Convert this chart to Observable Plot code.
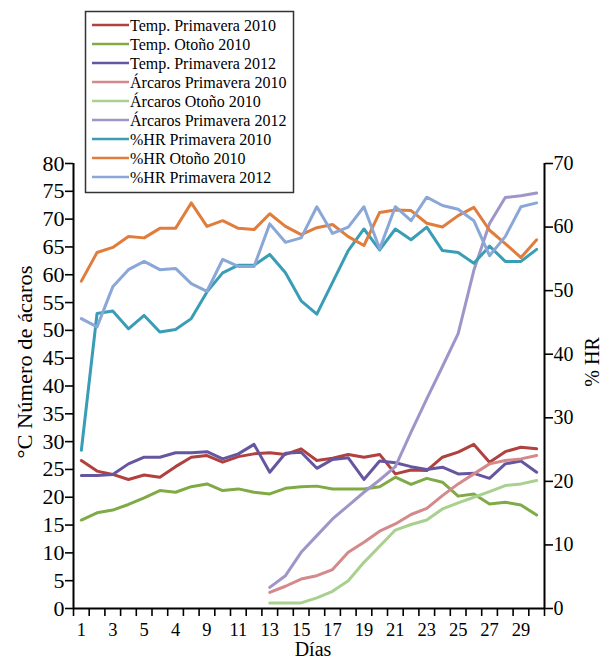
<!DOCTYPE html>
<html><head><meta charset="utf-8">
<script src="https://cdn.jsdelivr.net/npm/d3@7"></script>
<script src="https://cdn.jsdelivr.net/npm/@observablehq/plot@0.6"></script>
<style>body{margin:0;background:#fff}</style>
</head><body><div id="chart"></div>
<script>
// ---- data ----
const days = d3.range(1, 31);
const acaroDays = d3.range(13, 31);
const xLabelDays = [1,3,5,7,9,11,13,15,17,19,21,23,25,27,29];
const xTickLabels = ["1","3","5","4","9","11","13","15","17","19","21","23","25","27","29"];
const leftTicks = d3.range(0, 81, 5);
const rightTicks = d3.range(0, 71, 10);

const tempPrimavera2010 = [26.6,24.7,24.1,23.2,24.0,23.6,25.5,27.2,27.5,26.3,27.3,27.8,28.0,27.7,28.7,26.6,27.0,27.7,27.2,27.7,24.2,24.9,24.8,27.2,28.1,29.5,26.3,28.2,29.0,28.7];
const tempOtono2010 = [15.9,17.2,17.7,18.7,19.9,21.2,20.9,21.9,22.4,21.2,21.5,20.9,20.6,21.6,21.9,22.0,21.5,21.5,21.5,21.9,23.6,22.3,23.4,22.7,20.2,20.6,18.8,19.1,18.6,16.8];
const tempPrimavera2012 = [23.9,23.9,24.1,26.0,27.2,27.2,28.0,28.0,28.2,26.9,27.8,29.5,24.5,27.9,28.1,25.2,26.8,27.1,23.2,26.5,26.2,25.5,25.0,25.4,24.2,24.3,23.4,26.0,26.5,24.5];
const acarosPrimavera2010 = [2.9,4.0,5.3,5.9,7.0,10.1,11.9,13.9,15.2,16.9,18.0,20.3,22.4,24.2,26.0,26.6,26.9,27.5];
const acarosOtono2010 = [1.0,1.0,1.0,1.9,3.1,5.0,8.3,11.2,14.1,15.1,15.9,17.9,19.0,20.0,21.0,22.1,22.4,23.0];
const acarosPrimavera2012 = [3.8,5.9,10.1,13.1,16.1,18.5,20.9,23.1,25.5,31.7,37.7,43.5,49.4,60.8,69.2,73.9,74.2,74.7];
const hrPrimavera2010 = [24.9,46.4,46.8,44.0,46.1,43.5,43.9,45.6,49.8,52.8,54.0,54.0,55.7,52.8,48.4,46.3,51.3,56.3,59.7,56.4,59.7,58.0,60.0,56.3,56.0,54.3,57.0,54.6,54.6,56.5];
const hrOtono2010 = [51.5,56.0,56.8,58.5,58.3,59.8,59.8,63.8,60.1,61.0,59.8,59.6,62.1,60.1,58.8,59.9,60.4,58.5,57.1,62.3,62.7,62.6,60.6,60.0,61.8,63.1,59.5,57.4,55.2,58.0];
const hrPrimavera2012 = [45.6,44.3,50.6,53.3,54.6,53.3,53.5,51.1,49.9,54.9,53.8,53.8,60.5,57.6,58.3,63.2,59.0,60.0,63.2,56.6,63.2,61.0,64.7,63.4,62.8,61.0,55.5,58.5,63.2,63.8];

const series = [
  {name: "Temp. Primavera 2010", color: "#B0413E", axis: "left", x: days, values: tempPrimavera2010},
  {name: "Temp. Otoño 2010", color: "#7FAA45", axis: "left", x: days, values: tempOtono2010},
  {name: "Temp. Primavera 2012", color: "#6656A0", axis: "left", x: days, values: tempPrimavera2012},
  {name: "Árcaros Primavera 2010", color: "#D4898A", axis: "left", x: acaroDays, values: acarosPrimavera2010},
  {name: "Árcaros Otoño 2010", color: "#A9D08E", axis: "left", x: acaroDays, values: acarosOtono2010},
  {name: "Árcaros Primavera 2012", color: "#A095C8", axis: "left", x: acaroDays, values: acarosPrimavera2012},
  {name: "%HR Primavera 2010", color: "#3A9DB6", axis: "right", x: days, values: hrPrimavera2010},
  {name: "%HR Otoño 2010", color: "#E07D3C", axis: "right", x: days, values: hrOtono2010},
  {name: "%HR Primavera 2012", color: "#8AA7D8", axis: "right", x: days, values: hrPrimavera2012}
];

const HR_TO_LEFT = 80 / 70;
const rows = series.flatMap(s => s.values.map((v, i) => ({series: s.name, day: s.x[i], value: v, axis: s.axis})));
const labelMap = new Map(xLabelDays.map((d, i) => [d, xTickLabels[i]]));
const font = "'Liberation Serif', 'Times New Roman', serif";

const chart = Plot.plot({
  width: 606, height: 658,
  marginLeft: 73, marginRight: 62, marginTop: 163, marginBottom: 50,
  style: {fontFamily: font, background: "#fff", color: "#000", overflow: "visible"},
  x: {domain: [0.5, 30.5]},
  y: {domain: [0, 80]},
  color: {domain: series.map(s => s.name), range: series.map(s => s.color)},
  marks: [
    Plot.line(rows, {x: "day", y: d => d.axis === "right" ? d.value * HR_TO_LEFT : d.value, z: "series", stroke: "series", strokeWidth: 3}),
    Plot.axisX(d3.range(0.5, 31, 1), {tickSize: 8, tickFormat: () => "", strokeWidth: 1.6, label: null}),
    Plot.axisX(xLabelDays, {tickSize: 0, tickPadding: 14, tickFormat: d => labelMap.get(d), fontSize: 18.5, label: null}),
    Plot.axisY(leftTicks, {tickSize: 8, tickPadding: 1, fontSize: 22, strokeWidth: 1.6, label: null}),
    Plot.axisY(rightTicks.map(v => v * HR_TO_LEFT), {anchor: "right", tickSize: 8, tickPadding: 1, fontSize: 20, strokeWidth: 1.6, tickFormat: v => String(Math.round(v / HR_TO_LEFT)), label: null}),
    Plot.ruleX([0.5, 30.5], {stroke: "#000", strokeWidth: 2}),
    Plot.ruleY([0], {stroke: "#000", strokeWidth: 2}),
    Plot.text(["Días"], {frameAnchor: "bottom", dx: 4, dy: 47, fontSize: 20})
  ]
});

const svg = d3.select(chart);

// rotated axis titles
svg.append("text").attr("transform", "translate(25,362) rotate(-90)")
  .attr("text-anchor", "middle").attr("dy", "0.35em")
  .attr("font-family", font).attr("font-size", 20).attr("fill", "#000")
  .attr("textLength", 193).attr("lengthAdjust", "spacingAndGlyphs")
  .text("°C Número de ácaros");
svg.append("text").attr("transform", "translate(592,362) rotate(-90)")
  .attr("text-anchor", "middle").attr("dy", "0.35em")
  .attr("font-family", font).attr("font-size", 20).attr("fill", "#000")
  .text("% HR");

// legend (drawn over the plot, as in the reference)
const lg = svg.append("g").attr("font-family", font).attr("font-size", 16).attr("text-anchor", "start");
lg.append("rect").attr("x", 85.5).attr("y", 11.5).attr("width", 208).attr("height", 181)
  .attr("fill", "#fff").attr("stroke", "#333").attr("stroke-width", 1.5);
series.forEach((s, i) => {
  const y = 25 + i * 19;
  lg.append("line").attr("x1", 92).attr("x2", 129).attr("y1", y).attr("y2", y)
    .attr("stroke", s.color).attr("stroke-width", 2.5);
  lg.append("text").attr("x", 130).attr("y", y).attr("dy", "0.35em").attr("fill", "#000")
    .attr("text-anchor", "start").text(s.name);
});

document.getElementById("chart").append(chart);
</script>
</body></html>
